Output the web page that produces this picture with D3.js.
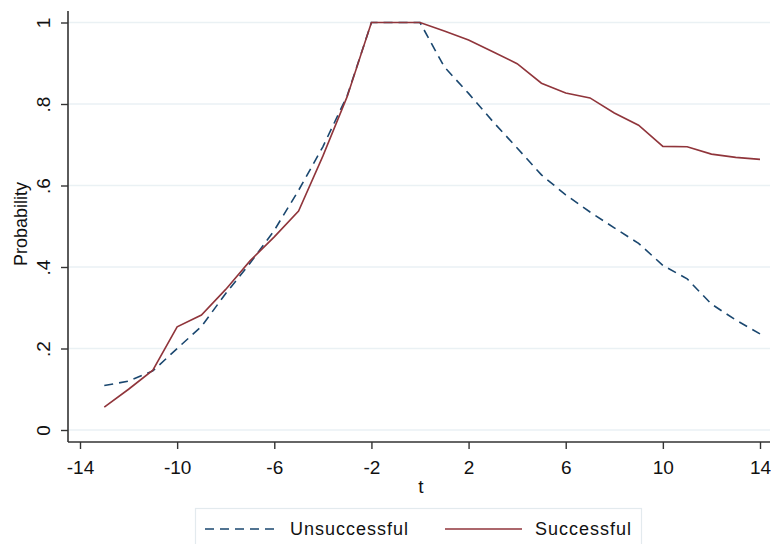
<!DOCTYPE html>
<html>
<head>
<meta charset="utf-8">
<script src="https://cdn.jsdelivr.net/npm/d3@7"></script>
<style>
  html, body { margin: 0; padding: 0; background: #fff; }
  svg { display: block; }
  text { font-family: Arial, "Liberation Sans", sans-serif; fill: #111; }
</style>
</head>
<body>
<svg id="chart" width="771" height="544"></svg>
<script>
// ---- data ----
const tValues = [-13,-12,-11,-10,-9,-8,-7,-6,-5,-4,-3,-2,-1,0,1,2,3,4,5,6,7,8,9,10,11,12,13,14];
const unsuccessful = [0.109,0.120,0.145,0.200,0.254,0.335,0.409,0.490,0.588,0.695,0.820,1,1,1,
  0.891,0.826,0.757,0.692,0.626,0.577,0.535,0.496,0.458,0.404,0.371,0.309,0.270,0.236];
const successful = [0.056,0.100,0.147,0.253,0.282,0.345,0.415,0.474,0.537,0.672,0.818,1,1,1,
  0.979,0.957,0.928,0.899,0.851,0.827,0.815,0.778,0.748,0.696,0.695,0.677,0.669,0.664];
const xTicks = [-14,-10,-6,-2,2,6,10,14];
const yTicks = [0,0.2,0.4,0.6,0.8,1];
const yTickLabels = ["0",".2",".4",".6",".8","1"];
const seriesNames = ["Unsuccessful","Successful"];
const seriesColors = ["#1a476f","#90353b"];

// ---- layout ----
const svg = d3.select("#chart");
const plotLeft = 68, plotRight = 770, plotTop = 11, plotBottom = 442;
const x = d3.scaleLinear().domain([-14,14]).range([80,760]);
const y = d3.scaleLinear().domain([0,1]).range([430,22.5]);

// gridlines
svg.append("g").selectAll("line").data(yTicks).join("line")
  .attr("x1", plotLeft).attr("x2", plotRight)
  .attr("y1", d => y(d)).attr("y2", d => y(d))
  .attr("stroke", "#eaf1f4").attr("stroke-width", 1.5);

// y axis
const yAxis = svg.append("g").attr("transform", `translate(${plotLeft},0)`)
  .call(d3.axisLeft(y).tickValues(yTicks).tickSize(7).tickFormat((d,i) => yTickLabels[i]));
yAxis.select(".domain").attr("d", `M0,${plotTop}V${plotBottom}`).attr("stroke","#333").attr("stroke-width",1.6);
yAxis.selectAll(".tick line").attr("stroke","#333").attr("stroke-width",1.4);
yAxis.selectAll(".tick text")
  .attr("x", null).attr("dy", null)
  .attr("transform", "translate(-18,0) rotate(-90)")
  .attr("text-anchor","middle")
  .style("font-size","19px").style("font-family","Arial, 'Liberation Sans', sans-serif").attr("fill","#111");

// x axis
const xAxis = svg.append("g").attr("transform", `translate(0,${plotBottom})`)
  .call(d3.axisBottom(x).tickValues(xTicks).tickSize(7).tickFormat(d3.format("d")));
xAxis.select(".domain").attr("d", `M${plotLeft},0H${plotRight}`).attr("stroke","#333").attr("stroke-width",1.6);
xAxis.selectAll(".tick line").attr("stroke","#333").attr("stroke-width",1.4);
xAxis.selectAll(".tick text")
  .attr("y", 32).attr("dy", null)
  .style("font-size","19px").style("font-family","Arial, 'Liberation Sans', sans-serif").attr("fill","#111")
  .text(d => d < 0 ? "-" + Math.abs(d) : String(d));

// axis titles
svg.append("text").attr("transform", "translate(27,224) rotate(-90)")
  .attr("text-anchor","middle").style("font-size","18px").text("Probability");
svg.append("text").attr("x", 421).attr("y", 493)
  .attr("text-anchor","middle").style("font-size","19px").text("t");

// lines
const line = vals => d3.line().x((d,i) => x(tValues[i])).y(d => y(d))(vals);
svg.append("path").attr("d", line(unsuccessful)).attr("fill","none")
  .attr("stroke", seriesColors[0]).attr("stroke-width",1.6).attr("stroke-dasharray","9,6");
svg.append("path").attr("d", line(successful)).attr("fill","none")
  .attr("stroke", seriesColors[1]).attr("stroke-width",1.6);

// legend
const lg = svg.append("g");
lg.append("rect").attr("x",195.5).attr("y",508.5).attr("width",446).attr("height",45)
  .attr("fill","#fff").attr("stroke","#e3eaee").attr("stroke-width",1.2);
const items = [
  {name: seriesNames[0], color: seriesColors[0], dash: "9,6", x0: 205, x1: 279, tx: 290},
  {name: seriesNames[1], color: seriesColors[1], dash: null, x0: 445, x1: 522, tx: 535}
];
items.forEach(it => {
  lg.append("line").attr("x1", it.x0).attr("x2", it.x1).attr("y1", 529).attr("y2", 529)
    .attr("stroke", it.color).attr("stroke-width",1.6).attr("stroke-dasharray", it.dash);
  lg.append("text").attr("x", it.tx).attr("y", 534.5).style("font-size","18px")
    .style("letter-spacing","1px").text(it.name);
});
</script>
</body>
</html>
